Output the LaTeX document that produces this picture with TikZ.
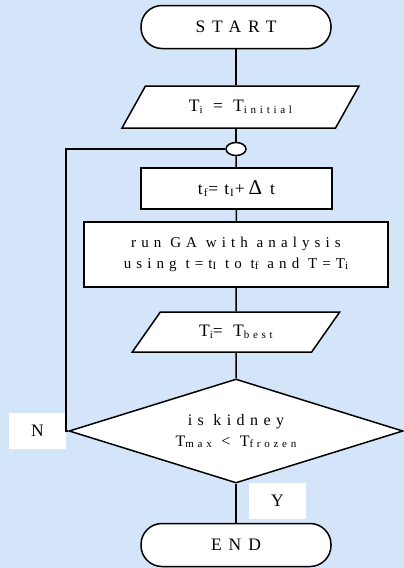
\documentclass[tikz,border=0pt]{standalone}
\usepackage{fontspec}
\setmainfont{Liberation Serif}
\newfontfamily\spacedserif[LetterSpace=34]{Liberation Serif}
\newfontfamily\widespaced[LetterSpace=40]{Liberation Serif}
\usetikzlibrary{shapes.geometric}
\definecolor{paper}{RGB}{213,229,249}
% small text set just below the baseline, for subscripts
\newcommand\lo[1]{\raisebox{-0.2ex}{\fontsize{11}{13}\selectfont #1}}
\newcommand\bigdelta{{\fontsize{21}{22}\selectfont Δ}}
\tikzset{
  every node/.style={font=\spacedserif\fontsize{17.5}{21}\selectfont, inner sep=0pt},
  flow/.style={draw=black, line width=1.5pt, fill=white},
  terminal/.style={flow, rectangle, rounded corners=21pt, minimum width=190pt,
                   minimum height=43pt, font=\widespaced\fontsize{17.5}{21}\selectfont},
  procbox/.style={flow, rectangle},
  iobox/.style={flow, trapezium, trapezium stretches=true},
  decision/.style={flow, diamond, aspect=3.21, minimum width=334pt, minimum height=104pt},
  joint/.style={flow, ellipse, minimum width=20pt, minimum height=13pt},
  tag/.style={fill=white, rectangle, minimum width=57pt, minimum height=36pt},
  wire/.style={line width=1.5pt, draw=black}
}
\begin{document}
\begin{tikzpicture}[x=1pt, y=-1pt]
  \path[fill=paper, use as bounding box] (0,0) rectangle (404,568);

  \node[terminal] (start) at (236,27) {START};
  \node[iobox, trapezium left angle=46, trapezium right angle=134,
        minimum width=237pt, minimum height=42pt] (init) at (240.5,107)
        {T\lo{i} = T\lo{initial}};
  \node[joint] (merge) at (236,149) {};
  \node[procbox, minimum width=191pt, minimum height=41pt] (step1) at (236.5,188.5)
        {t\hspace{1pt}\lo{f}\hspace{1pt}=\hspace{6pt}t\hspace{1pt}\lo{I}\hspace{1pt}+\hspace{4pt}\bigdelta\hspace{8pt}t};
  \node[procbox, minimum width=304pt, minimum height=65pt, align=center,
        font=\spacedserif\fontsize{15}{20}\selectfont] (run) at (236,254.5)
        {run GA with analysis\\[1pt] using t=t\lo{I} to t\lo{f} and T=T\lo{i}};
  \node[iobox, trapezium left angle=44, trapezium right angle=136,
        minimum width=208pt, minimum height=40pt] (best) at (236,332)
        {T\lo{i}= T\lo{best}};
  \node[decision, align=center, font=\spacedserif\fontsize{16}{21}\selectfont] (check) at (236,431)
        {is kidney\\ T\lo{max} < T\lo{frozen}};
  \node[terminal] (stop) at (236,545) {END};

  \node[tag] (no) at (37.5,430.5) {N};
  \node[tag] (yes) at (277.5,501) {Y};

  \coordinate (corner) at (66,149);

  \draw[wire] (start) -- (start |- init.north);
  \draw[wire] (init.south -| merge) -- (merge);
  \draw[wire] (merge) -- (step1);
  \draw[wire] (step1) -- (run);
  \draw[wire] (run) -- (best);
  \draw[wire] (best) -- (check);
  \draw[wire] (check) -- (stop);
  \draw[wire] (check.west) -| (corner) -- (merge.west);
\end{tikzpicture}
\end{document}
